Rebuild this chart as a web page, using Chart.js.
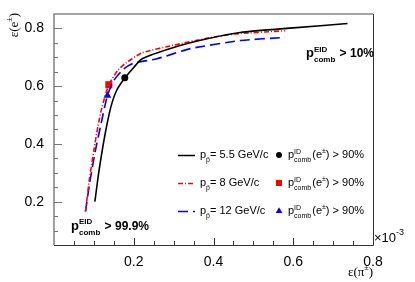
<!DOCTYPE html>
<html>
<head>
<meta charset="utf-8">
<script src="https://cdn.jsdelivr.net/npm/chart.js@4.4.1/dist/chart.umd.min.js"></script>
<style>
html,body{margin:0;padding:0;background:#fff}
</style>
</head>
<body>
<canvas id="eff" width="415" height="282"></canvas>
<script>
// pion efficiency (x, units of 1e-3) vs electron efficiency (y)
const pion55=[0.1025,0.112,0.121,0.131,0.143,0.157,0.178,0.2,0.221,0.3,0.384,0.467,0.6,0.736];
const elec55=[0.200,0.300,0.378,0.455,0.530,0.585,0.629,0.665,0.695,0.734,0.764,0.786,0.802,0.817];
const pion8=[0.079,0.089,0.1,0.11,0.12,0.1375,0.16,0.18,0.22,0.3,0.384,0.454,0.579];
const elec8=[0.166,0.28,0.378,0.46,0.525,0.605,0.655,0.68,0.715,0.742,0.766,0.781,0.792];
const pion12=[0.079,0.09,0.104,0.118,0.134,0.15,0.175,0.2,0.258,0.342,0.467,0.579];
const elec12=[0.166,0.27,0.378,0.47,0.568,0.62,0.66,0.68,0.695,0.73,0.758,0.769];
// working points p_comb(e) > 90%
const wpPion=[0.1775,0.1375,0.134];
const wpElec=[0.629,0.605,0.568];
const momenta=['5.5','8','12'];
const xTicks=[0.2,0.4,0.6,0.8];
const yTicks=[0.2,0.4,0.6,0.8];

const colors=['#000000','#ff0000','#0000ff'];
const dashes=[[],[5,2,1,2],[10,5]];
const shapes=['circle','rect','triangle'];
const sizes=[3.5,5,4.5];

function pts(xs,ys){ return xs.map((x,i)=>({x:x,y:ys[i]})); }

const SANS='"Liberation Sans", Arial, sans-serif';
const SERIF='"Liberation Serif", "Times New Roman", serif';

// draw text pieces: {t, s, dy, bold, serif} or {sup, sub, s, bold}
function rich(ctx,x,y,items){
  ctx.textBaseline='alphabetic';
  ctx.textAlign='left';
  for(const it of items){
    const fam=it.serif?SERIF:SANS;
    ctx.font=(it.bold?'bold ':'')+it.s+'px '+fam;
    if(it.sup!==undefined){
      ctx.fillText(it.sup,x,y-(it.up||5));
      ctx.fillText(it.sub,x,y+(it.down||3));
      x+=Math.max(ctx.measureText(it.sup).width,ctx.measureText(it.sub).width)+1;
    } else {
      ctx.fillText(it.t,x,y+(it.dy||0));
      x+=ctx.measureText(it.t).width;
    }
  }
  return x;
}

const decor={
  id:'decor',
  afterDraw(chart){
    const ctx=chart.ctx, a=chart.chartArea;
    const xs=chart.scales.x, ys=chart.scales.y;
    ctx.save();
    // frame
    ctx.lineWidth=1;
    ctx.strokeStyle='#333';
    ctx.beginPath();
    ctx.moveTo(a.left,a.bottom+0.5);ctx.lineTo(a.right+0.5,a.bottom+0.5);ctx.lineTo(a.right+0.5,a.top);
    ctx.stroke();
    ctx.strokeStyle='#888';
    ctx.lineWidth=1.6;
    ctx.beginPath();
    ctx.moveTo(a.left,a.bottom);ctx.lineTo(a.left,a.top);ctx.lineTo(a.right,a.top);
    ctx.stroke();
    // ticks, pointing inward
    ctx.lineWidth=1;
    ctx.strokeStyle='#777';
    for(let k=1;k<=16;k++){
      const v=k*0.05, p=Math.round(ys.getPixelForValue(v))+0.5;
      if(p<a.top||p>a.bottom) continue;
      const major=Math.abs(v/0.2-Math.round(v/0.2))<1e-6;
      ctx.beginPath();ctx.moveTo(a.left,p);ctx.lineTo(a.left+(major?8:4),p);ctx.stroke();
    }
    ctx.strokeStyle='#333';
    for(let k=1;k<16;k++){
      const v=k*0.05, p=Math.round(xs.getPixelForValue(v))+0.5;
      const major=k%4===0;
      ctx.beginPath();ctx.moveTo(p,a.bottom);ctx.lineTo(p,a.bottom-(major?7:4));ctx.stroke();
    }
    ctx.fillStyle='#000';
    // exponent
    rich(ctx,a.right+1,242,[{t:'\u00d710',s:13},{t:'-3',s:9,dy:-7}]);
    // axis titles
    ctx.font='13px '+SERIF;
    let w=ctx.measureText('\u03b5(\u03c0)').width;
    ctx.font='8px '+SERIF;
    w+=ctx.measureText('\u00b1').width;
    rich(ctx,a.right-w,276,[{t:'\u03b5(\u03c0',s:13,serif:true},{t:'\u00b1',s:8,dy:-6,serif:true},{t:')',s:13,serif:true}]);
    ctx.save();
    ctx.translate(18,13);
    ctx.rotate(-Math.PI/2);
    ctx.font='13px '+SERIF;
    let w2=ctx.measureText('\u03b5(e)').width;
    ctx.font='8px '+SERIF;
    w2+=ctx.measureText('\u00b1').width;
    rich(ctx,-w2,0,[{t:'\u03b5(e',s:13,serif:true},{t:'\u00b1',s:8,dy:-6,serif:true},{t:')',s:13,serif:true}]);
    ctx.restore();
    // cut annotations
    rich(ctx,306,57,[{t:'p',s:13,bold:true},{sup:'EID',sub:'comb',s:8,bold:true,up:5,down:5},{t:' > 10%',s:12,bold:true}]);
    rich(ctx,71,230,[{t:'p',s:13,bold:true},{sup:'EID',sub:'comb',s:8,bold:true,up:6,down:5},{t:' > 99.9%',s:12,bold:true}]);
    // legend
    const rows=[155,183,211];
    for(let i=0;i<3;i++){
      const y=rows[i];
      ctx.strokeStyle=colors[i];
      ctx.lineWidth=1.5;
      ctx.setLineDash(dashes[i]);
      ctx.beginPath();ctx.moveTo(178,y+0.5);ctx.lineTo(195,y+0.5);ctx.stroke();
      ctx.setLineDash([]);
      ctx.fillStyle=colors[i];
      Chart.helpers.drawPoint(ctx,{pointStyle:shapes[i],radius:sizes[i]*0.85,rotation:0,borderWidth:0},279,y);
      ctx.fillStyle='#000';
      rich(ctx,200,y+3,[{t:'p',s:11},{t:'p\u0304',s:7,dy:4},{t:'= '+momenta[i]+' GeV/c',s:11}]);
      rich(ctx,288,y+3,[{t:'p',s:11},{sup:'ID',sub:'comb',s:7,up:4,down:4},{t:'(e',s:11},{t:'\u00b1',s:7,dy:-5},{t:') > 90%',s:11}]);
    }
    ctx.restore();
  }
};

const datasets=[];
[[pion55,elec55],[pion8,elec8],[pion12,elec12]].forEach((s,i)=>{
  datasets.push({
    data:pts(s[0],s[1]),
    showLine:true,
    borderColor:colors[i],
    borderWidth:1.6,
    borderDash:dashes[i],
    pointRadius:0,
    tension:0.2
  });
});
wpPion.forEach((x,i)=>{
  datasets.push({
    data:[{x:x,y:wpElec[i]}],
    pointStyle:shapes[i],
    pointRadius:sizes[i],
    backgroundColor:colors[i],
    borderColor:colors[i],
    borderWidth:0,
    showLine:false
  });
});

new Chart(document.getElementById('eff'),{
  type:'scatter',
  data:{datasets:datasets},
  options:{
    responsive:false,
    animation:false,
    layout:{padding:{left:0,right:42,top:14,bottom:0}},
    plugins:{legend:{display:false},tooltip:{enabled:false}},
    scales:{
      x:{
        type:'linear',min:0,max:0.8,
        afterBuildTicks:s=>{s.ticks=xTicks.map(v=>({value:v}));},
        afterFit:s=>{s.height=37;},
        grid:{display:false},
        border:{display:false},
        ticks:{padding:1,color:'#000',font:{family:SANS,size:14},maxRotation:0,
          callback:v=>v.toFixed(1)}
      },
      y:{
        type:'linear',min:0.05,max:0.85,
        afterBuildTicks:s=>{s.ticks=yTicks.map(v=>({value:v}));},
        afterFit:s=>{s.width=54;},
        grid:{display:false},
        border:{display:false},
        ticks:{padding:2,color:'#000',font:{family:SANS,size:14},
          callback:v=>v.toFixed(1)}
      }
    }
  },
  plugins:[decor]
});
</script>
</body>
</html>
